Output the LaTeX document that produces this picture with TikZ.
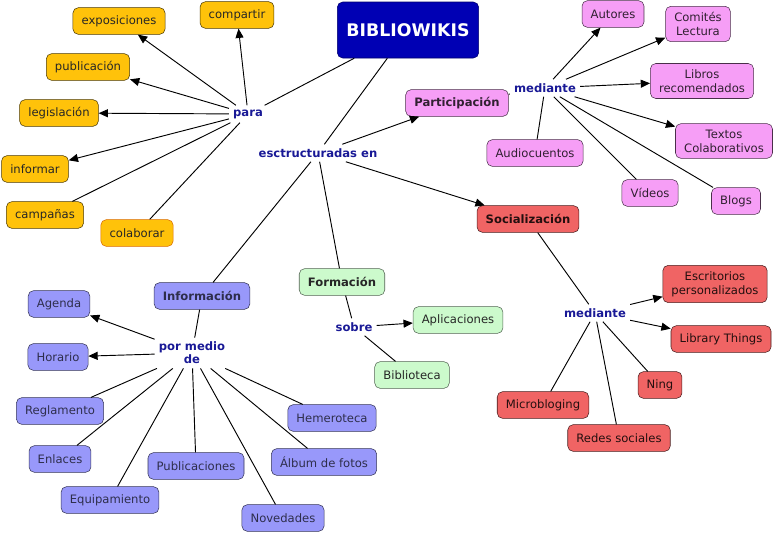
\documentclass[tikz,border=0pt]{standalone}
\usepackage{fontspec}
\setmainfont{DejaVu Sans}
\usepackage{xcolor}
\usetikzlibrary{arrows.meta}

\definecolor{rootblue}{RGB}{0,0,180}
\definecolor{linkblue}{RGB}{25,25,150}
\definecolor{mapyellow}{RGB}{255,194,10}
\definecolor{mappink}{RGB}{246,158,246}
\definecolor{mapred}{RGB}{240,100,100}
\definecolor{mapgreen}{RGB}{204,250,204}
\definecolor{mapblue}{RGB}{152,152,250}

\begin{document}
\begin{tikzpicture}[
      x=0.75pt, y=-0.75pt,
      box/.style={draw=black!80, rounded corners=4pt, minimum height=20pt,
        align=center, inner xsep=6.5pt, inner ysep=4.5pt,
        font=\fontsize{8.7}{10.5}\selectfont},
      rootbox/.style={box, fill=rootblue, draw=rootblue!60!black, text=white,
        minimum width=106pt, minimum height=42pt,
        font=\fontsize{13}{15}\selectfont\bfseries},
      purposebox/.style={box, fill=mapyellow, draw=black!70!mapyellow, text=black!85},
      partbox/.style={box, fill=mappink, draw=black!70!mappink, text=black!80!mappink},
      socialbox/.style={box, fill=mapred, draw=black!70!mapred, text=black!85!mapred},
      trainbox/.style={box, fill=mapgreen, draw=black!60!mapgreen, text=black!85},
      infobox/.style={box, fill=mapblue, draw=black!65!mapblue, text=black!70!mapblue},
      linkword/.style={text=linkblue, align=center, inner sep=3pt,
        font=\fontsize{8.7}{10}\selectfont\bfseries},
      arrow/.style={-{Triangle[length=7pt,width=6pt]}, line width=0.7pt, draw=black},
      plain/.style={line width=0.7pt, draw=black}
    ]
    \useasboundingbox (0,0) rectangle (776,533);

    \node[rootbox] (root) at (408,30) {BIBLIOWIKIS};
    \node[linkword] (para) at (248,114) {para};
    \node[linkword] (structured) at (318,153) {esctructuradas en};

    \node[purposebox] (exhibitions) at (119,21) {exposiciones};
    \node[purposebox] (share) at (237,15) {compartir};
    \node[purposebox] (publication) at (88,67) {publicación};
    \node[purposebox] (legislation) at (59,113) {legislación};
    \node[purposebox] (inform) at (35,169) {informar};
    \node[purposebox] (campaigns) at (45,215) {campañas};
    \node[purposebox, draw=orange!85!black] (collaborate) at (137,233) {colaborar};

    \node[partbox, font=\fontsize{8.7}{10.5}\selectfont\bfseries] (participation) at (457,103) {Participación};
    \node[linkword] (bymeans) at (545,88) {mediante};
    \node[partbox] (authors) at (613,14) {Autores};
    \node[partbox] (committees) at (698,24) {Comités\\Lectura};
    \node[partbox] (books) at (702,81) {Libros\\recomendados};
    \node[partbox] (texts) at (724,141) {Textos\\Colaborativos};
    \node[partbox] (audiotales) at (535,153) {Audiocuentos};
    \node[partbox] (videos) at (650,193) {Vídeos};
    \node[partbox] (blogs) at (736,201) {Blogs};

    \node[socialbox, font=\fontsize{8.7}{10.5}\selectfont\bfseries] (social) at (528,219) {Socialización};
    \node[linkword] (bymeanssoc) at (595,313) {mediante};
    \node[socialbox] (desktops) at (715,284) {Escritorios\\personalizados};
    \node[socialbox] (library) at (721,339) {Library Things};
    \node[socialbox] (ning) at (660,385) {Ning};
    \node[socialbox] (micro) at (543,405) {Microbloging};
    \node[socialbox] (networks) at (619,438) {Redes sociales};

    \node[trainbox, font=\fontsize{8.7}{10.5}\selectfont\bfseries] (training) at (342,282) {Formación};
    \node[linkword] (about) at (354,327) {sobre};
    \node[trainbox] (apps) at (458,320) {Aplicaciones};
    \node[trainbox] (libraryuse) at (412,375) {Biblioteca};

    \node[infobox, font=\fontsize{8.7}{10.5}\selectfont\bfseries] (information) at (202,296) {Información};
    \node[linkword] (through) at (192,353) {por medio\\de};
    \node[infobox] (agenda) at (59,304) {Agenda};
    \node[infobox] (schedule) at (58,357) {Horario};
    \node[infobox] (rules) at (60,411) {Reglamento};
    \node[infobox] (links) at (60,459) {Enlaces};
    \node[infobox] (equipment) at (110,500) {Equipamiento};
    \node[infobox] (publications) at (196,466) {Publicaciones};
    \node[infobox] (news) at (283,518) {Novedades};
    \node[infobox] (archive) at (332,418) {Hemeroteca};
    \node[infobox] (album) at (324,462) {Álbum de fotos};

    \draw[plain] (root) -- (para);
    \draw[plain] (root) -- (structured);
    \draw[arrow] (para) -- (exhibitions);
    \draw[arrow] (para) -- (share);
    \draw[arrow] (para) -- (publication);
    \draw[arrow] (para) -- (legislation);
    \draw[arrow] (para) -- (inform);
    \draw[plain] (para) -- (campaigns);
    \draw[plain] (para) -- (collaborate);

    \draw[arrow] (structured) -- (participation);
    \draw[arrow] (structured) -- (social);
    \draw[plain] (structured) -- (information);
    \draw[plain] (structured) -- (training);

    \draw[plain] (participation) -- (bymeans);
    \draw[arrow] (bymeans) -- (authors);
    \draw[arrow] (bymeans) -- (committees);
    \draw[arrow] (bymeans) -- (books);
    \draw[arrow] (bymeans) -- (texts);
    \draw[plain] (bymeans) -- (audiotales);
    \draw[plain] (bymeans) -- (videos);
    \draw[plain] (bymeans) -- (blogs);

    \draw[plain] (social) -- (bymeanssoc);
    \draw[arrow] (bymeanssoc) -- (desktops);
    \draw[arrow] (bymeanssoc) -- (library);
    \draw[plain] (bymeanssoc) -- (ning);
    \draw[plain] (bymeanssoc) -- (micro);
    \draw[plain] (bymeanssoc) -- (networks);

    \draw[plain] (training) -- (about);
    \draw[arrow] (about) -- (apps);
    \draw[plain] (about) -- (libraryuse);

    \draw[plain] (information) -- (through);
    \draw[arrow] (through) -- (agenda);
    \draw[arrow] (through) -- (schedule);
    \draw[plain] (through) -- (rules);
    \draw[plain] (through) -- (links);
    \draw[plain] (through) -- (equipment);
    \draw[plain] (through) -- (publications);
    \draw[plain] (through) -- (news);
    \draw[plain] (through) -- (album);
    \draw[plain] (through) -- (archive);
  \end{tikzpicture}
\end{document}
